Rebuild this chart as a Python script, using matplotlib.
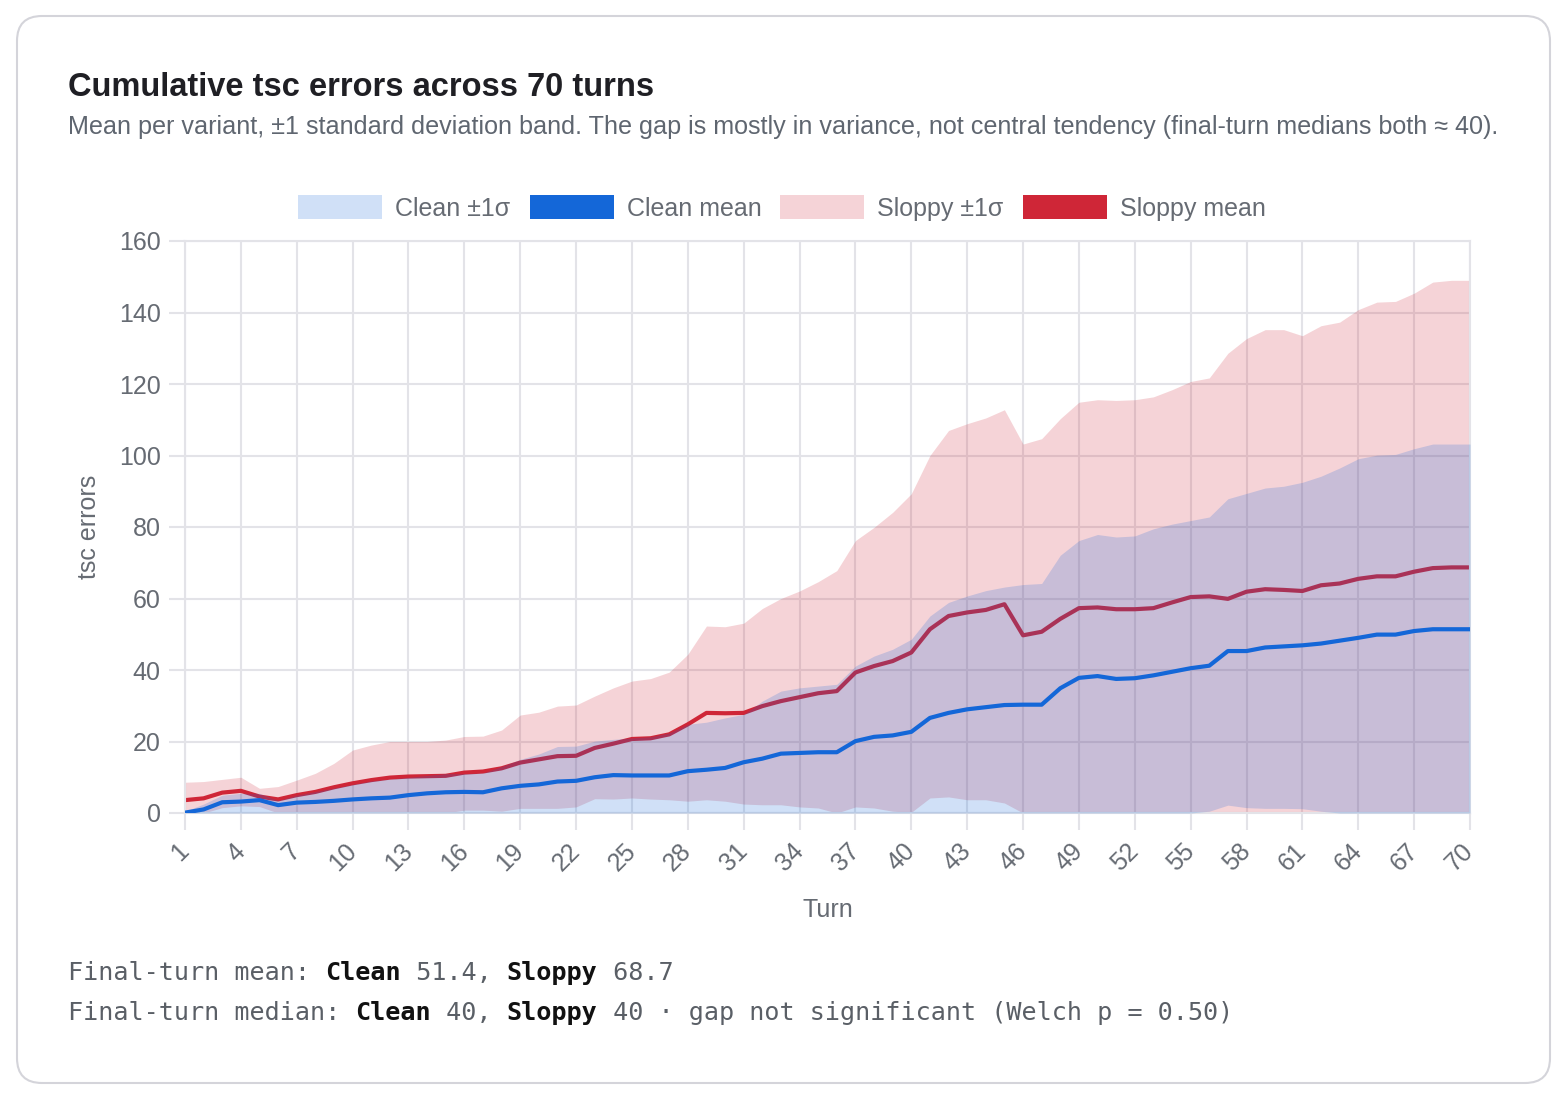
import matplotlib.pyplot as plt
from matplotlib.patches import FancyBboxPatch, Patch

# datos (70 turnos)
turns = list(range(1, 71))

clean_mean = [0.1, 1.0, 3.0, 3.2, 3.6, 2.2, 2.9, 3.1, 3.4, 3.8,
              4.1, 4.3, 5.0, 5.5, 5.8, 5.9, 5.8, 6.9, 7.6, 8.0,
              8.8, 9.0, 10.0, 10.6, 10.5, 10.5, 10.5, 11.7, 12.1, 12.6,
              14.2, 15.2, 16.6, 16.8, 17.0, 17.0, 20.1, 21.3, 21.7, 22.7,
              26.6, 28.0, 29.0, 29.6, 30.2, 30.3, 30.3, 34.9, 37.8, 38.3,
              37.5, 37.7, 38.5, 39.5, 40.5, 41.2, 45.3, 45.3, 46.3, 46.6,
              46.9, 47.4, 48.2, 49.0, 49.9, 49.9, 50.9, 51.4, 51.4, 51.4]
clean_upper = [0.5, 2.5, 5.0, 5.5, 5.5, 3.5, 5.0, 6.0, 7.0, 8.0,
               9.0, 9.5, 10.0, 10.5, 11.0, 11.0, 11.2, 13.0, 15.0, 16.5,
               18.6, 18.7, 20.1, 20.6, 21.0, 21.3, 22.4, 24.8, 25.4, 26.6,
               27.6, 31.3, 34.1, 35.0, 35.5, 36.0, 41.1, 43.9, 45.8, 48.6,
               55.1, 58.9, 60.7, 62.2, 63.2, 63.9, 64.2, 72.1, 76.2, 77.9,
               77.2, 77.5, 79.5, 80.8, 81.8, 82.8, 87.9, 89.4, 90.9, 91.4,
               92.5, 94.2, 96.5, 99.1, 100.1, 100.3, 101.9, 103.2, 103.2, 103.2]
clean_lower = [0]*55 + [0.5, 2.2, 1.5, 1.3, 1.3, 1.2, 0.5] + [0]*8

sloppy_mean = [3.6, 4.1, 5.7, 6.2, 4.6, 3.8, 5.0, 5.9, 7.2, 8.3,
               9.2, 9.9, 10.2, 10.3, 10.4, 11.3, 11.6, 12.5, 14.1, 15.0,
               15.9, 16.0, 18.2, 19.4, 20.7, 20.9, 22.0, 24.8, 28.0, 27.9,
               28.0, 29.9, 31.3, 32.4, 33.5, 34.1, 39.3, 41.1, 42.5, 44.9,
               51.4, 55.1, 56.1, 56.8, 58.4, 49.7, 50.7, 54.3, 57.3, 57.5,
               57.0, 57.0, 57.3, 58.9, 60.4, 60.6, 59.9, 61.9, 62.6, 62.4,
               62.1, 63.7, 64.2, 65.5, 66.2, 66.2, 67.5, 68.5, 68.7, 68.7]
sloppy_upper = [8.6, 8.8, 9.4, 10.0, 6.9, 7.4, 9.2, 11.1, 13.9, 17.6,
                19.0, 20.0, 20.0, 20.0, 20.4, 21.4, 21.5, 23.2, 27.4, 28.2,
                29.9, 30.2, 32.7, 35.0, 36.9, 37.6, 39.4, 44.4, 52.3, 52.1,
                53.1, 57.2, 60.0, 62.1, 64.7, 67.8, 76.2, 79.9, 84.1, 89.3,
                100.0, 107.0, 108.9, 110.5, 112.8, 103.2, 104.7, 110.3, 114.9, 115.6,
                115.4, 115.6, 116.4, 118.4, 120.7, 121.7, 128.6, 132.7, 135.2, 135.2,
                133.5, 136.3, 137.3, 140.8, 142.9, 143.1, 145.4, 148.5, 149.0, 149.0]
sloppy_lower = [0, 0, 1.5, 2.0, 1.8, 0, 0, 0, 0, 0,
                0, 0, 0, 0, 0, 0.8, 0.8, 0.5, 1.3, 1.3,
                1.3, 1.7, 4.0, 3.9, 4.2, 3.9, 3.7, 3.3, 3.7, 3.3,
                2.5, 2.3, 2.3, 1.7, 1.4, 0, 1.7, 1.4, 0.5, 0.2,
                4.2, 4.5, 3.7, 3.7, 2.8] + [0]*25

BLUE = "#1467d8"
RED = "#cf2637"
GRID = "#e3e3e8"
TXT = "#666b73"
SANS = "Liberation Sans"
MONO = "DejaVu Sans Mono"

fig = plt.figure(figsize=(15.62, 10.95), dpi=100)

# tarjeta con borde redondeado (solo borde, por detras de todo)
card = FancyBboxPatch((0.17, 0.12), 15.33, 10.67, boxstyle="round,pad=0,rounding_size=0.25",
                      transform=fig.dpi_scale_trans, facecolor="none", edgecolor="#d4d4da",
                      linewidth=1.5, zorder=-5)
fig.patches.append(card)

fig.text(68/1562, 1-88/1095, "Cumulative tsc errors across 70 turns", fontsize=23.5,
         fontweight="bold", family=SANS, color="#1f1f24", va="center", ha="left")
fig.text(68/1562, 1-127/1095,
         "Mean per variant, ±1 standard deviation band. The gap is mostly in variance, "
         "not central tendency (final-turn medians both ≈ 40).",
         fontsize=18.1, family=SANS, color="#5f6670", va="center", ha="left")

ax = fig.add_axes([185/1562, 1-813/1095, 1285/1562, 572/1095])

ax.fill_between(turns, sloppy_lower, sloppy_upper, color=RED, alpha=0.2, linewidth=0, zorder=1)
ax.plot(turns, sloppy_mean, color=RED, linewidth=3, zorder=2, solid_joinstyle="round")
ax.fill_between(turns, clean_lower, clean_upper, color=BLUE, alpha=0.2, linewidth=0, zorder=3)
ax.plot(turns, clean_mean, color=BLUE, linewidth=3, zorder=4, solid_joinstyle="round")

ax.set_xlim(1, 70)
ax.set_ylim(0, 160)
ax.set_yticks(range(0, 161, 20))
ax.set_xticks(turns[::3])
ax.set_xticklabels([str(t) for t in turns[::3]], rotation=45, ha="right", va="center",
                   rotation_mode="anchor")
ax.set_axisbelow(True)
ax.grid(True, color=GRID, linewidth=1.5)
for s in ax.spines.values():
    s.set_color(GRID)
    s.set_linewidth(1.5)
ax.tick_params(axis="both", colors=GRID, labelcolor=TXT, labelsize=18, width=1.5)
ax.tick_params(axis="y", length=11.5, pad=6)
ax.tick_params(axis="x", length=12, pad=13)
for lab in ax.get_xticklabels() + ax.get_yticklabels():
    lab.set_family(SANS)

ax.set_ylabel("tsc errors", fontsize=18, color=TXT, family=SANS, labelpad=13)
ax.set_xlabel("Turn", fontsize=18, color=TXT, family=SANS, labelpad=16)

handles = [Patch(facecolor=BLUE, alpha=0.2, edgecolor="none", label="Clean ±1σ"),
           Patch(facecolor=BLUE, edgecolor="none", label="Clean mean"),
           Patch(facecolor=RED, alpha=0.2, edgecolor="none", label="Sloppy ±1σ"),
           Patch(facecolor=RED, edgecolor="none", label="Sloppy mean")]
leg = fig.legend(handles=handles, loc="center", bbox_to_anchor=(782/1562, 1-208/1095), ncol=4,
                 frameon=False, prop={"family": SANS, "size": 18},
                 handlelength=3.36, handleheight=1.04, handletextpad=0.52, columnspacing=0.76)
for t in leg.get_texts():
    t.set_color(TXT)

# texto monoespaciado al pie
cw = 15.13
def linea(y, partes):
    n = 0
    for txt, negrita in partes:
        fig.text((68 + n*cw)/1562, 1-y/1095, txt, family=MONO, fontsize=18.1,
                 fontweight="bold" if negrita else "normal",
                 color="#111111" if negrita else "#5a5f66", va="center", ha="left")
        n += len(txt)

linea(973, [("Final-turn mean: ", False), ("Clean", True), (" 51.4, ", False),
            ("Sloppy", True), (" 68.7", False)])
linea(1013, [("Final-turn median: ", False), ("Clean", True), (" 40, ", False),
             ("Sloppy", True), (" 40 · gap not significant (Welch p = 0.50)", False)])

plt.savefig("out.png", dpi=100)
